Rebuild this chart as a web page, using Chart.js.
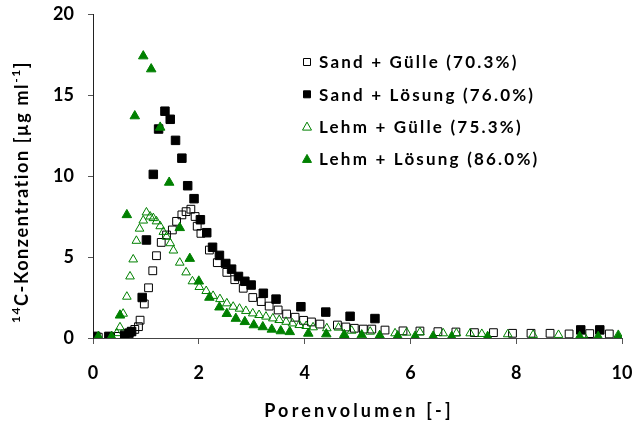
<!DOCTYPE html>
<html>
<head>
<meta charset="utf-8">
<script src="https://cdn.jsdelivr.net/npm/chart.js@4"></script>
<style>
  html, body { margin: 0; padding: 0; background: #fff; }
  #wrap { width: 639px; height: 425px; }
</style>
</head>
<body>
<div id="wrap"><canvas id="chart"></canvas></div>
<script>
const SERIES_NAMES = [
  'Sand + Gülle (70.3%)',
  'Sand + Lösung (76.0%)',
  'Lehm + Gülle (75.3%)',
  'Lehm + Lösung (86.0%)'
];

const X_TITLE = 'Porenvolumen [-]';

// Sand + Gülle (offene Quadrate)
const sandGuelleX = [0.1, 0.32, 0.48, 0.6, 0.72, 0.79, 0.86, 0.89, 0.97, 1.05, 1.13, 1.2, 1.29, 1.39, 1.5, 1.58, 1.68, 1.76, 1.85, 1.93, 1.97, 2.04, 2.2, 2.35, 2.53, 2.68, 2.84, 3.02, 3.18, 3.33, 3.5, 3.66, 3.82, 3.98, 4.13, 4.29, 4.62, 4.78, 4.94, 5.11, 5.27, 5.52, 5.86, 6.18, 6.52, 6.86, 7.21, 7.57, 7.93, 8.28, 8.64, 9.0, 9.39, 9.76];
const sandGuelleY = [0.05, 0.08, 0.1, 0.25, 0.39, 0.53, 0.7, 1.1, 2.1, 3.1, 4.15, 5.08, 5.9, 6.36, 6.67, 7.2, 7.6, 7.8, 7.95, 7.5, 6.9, 6.46, 5.43, 4.65, 4.05, 3.6, 3.07, 2.5, 2.25, 1.97, 1.73, 1.48, 1.28, 1.09, 0.99, 0.86, 0.8, 0.68, 0.6, 0.55, 0.55, 0.49, 0.44, 0.43, 0.39, 0.37, 0.33, 0.33, 0.29, 0.29, 0.29, 0.25, 0.27, 0.25];

// Sand + Lösung (gefüllte Quadrate)
const sandLoesungX = [0.05, 0.3, 0.6, 0.68, 0.73, 0.93, 1.01, 1.14, 1.24, 1.36, 1.46, 1.56, 1.68, 1.79, 1.91, 2.03, 2.15, 2.26, 2.39, 2.51, 2.62, 2.75, 2.87, 2.99, 3.22, 3.46, 3.93, 4.4, 4.86, 5.33, 9.22, 9.58];
const sandLoesungY = [0.1, 0.1, 0.15, 0.3, 0.4, 2.5, 6.05, 10.1, 12.9, 14.0, 13.5, 12.2, 11.1, 9.4, 8.6, 7.3, 6.5, 5.6, 5.1, 4.6, 4.25, 3.8, 3.5, 3.27, 2.76, 2.4, 1.93, 1.6, 1.34, 1.2, 0.5, 0.5];

// Lehm + Gülle (offene Dreiecke)
const lehmGuelleX = [0.1, 0.35, 0.45, 0.51, 0.57, 0.64, 0.7, 0.76, 0.82, 0.88, 0.95, 1.01, 1.08, 1.14, 1.2, 1.27, 1.33, 1.39, 1.46, 1.52, 1.64, 1.76, 1.88, 2.01, 2.14, 2.27, 2.4, 2.53, 2.65, 2.77, 2.89, 3.02, 3.14, 3.27, 3.4, 3.52, 3.65, 3.77, 3.9, 4.03, 4.16, 4.42, 4.64, 4.89, 5.24, 5.71, 5.93, 6.18, 6.62, 6.87, 7.13, 7.35, 7.84, 8.32, 8.8, 9.27, 9.93];
const lehmGuelleY = [0.05, 0.05, 0.3, 0.66, 1.5, 2.55, 3.8, 4.85, 6.0, 6.75, 7.25, 7.75, 7.5, 7.4, 7.2, 6.9, 6.55, 6.25, 5.85, 5.4, 4.65, 4.05, 3.5, 3.15, 2.9, 2.6, 2.4, 2.14, 1.93, 1.81, 1.67, 1.52, 1.42, 1.32, 1.21, 1.11, 1.0, 0.9, 0.8, 0.74, 0.66, 0.6, 0.64, 0.45, 0.39, 0.29, 0.33, 0.35, 0.29, 0.29, 0.29, 0.25, 0.23, 0.19, 0.19, 0.19, 0.19];

// Lehm + Lösung (gefüllte Dreiecke)
const lehmLoesungX = [0.1, 0.35, 0.51, 0.64, 0.79, 0.95, 1.1, 1.27, 1.44, 1.64, 1.83, 2.0, 2.2, 2.39, 2.53, 2.7, 2.87, 3.04, 3.21, 3.38, 3.55, 3.72, 4.07, 4.41, 4.75, 5.08, 5.42, 5.76, 6.09, 6.43, 6.78, 7.46, 9.2, 9.55, 9.93];
const lehmLoesungY = [0.08, 0.08, 1.4, 7.6, 13.7, 17.4, 16.6, 13.0, 9.6, 6.8, 4.9, 3.5, 2.5, 1.9, 1.5, 1.2, 1.0, 0.8, 0.68, 0.53, 0.43, 0.38, 0.28, 0.24, 0.2, 0.18, 0.15, 0.12, 0.1, 0.1, 0.08, 0.08, 0.08, 0.08, 0.08];

const GREEN = '#008000';
const FONT = 'Lato, "Open Sans", sans-serif';

function toPoints(xs, ys) {
  return xs.map((x, i) => ({ x, y: ys[i] }));
}

const datasets = [
  {
    label: SERIES_NAMES[0],
    data: toPoints(sandGuelleX, sandGuelleY),
    pointStyle: 'rect',
    pointRadius: 5.5,
    borderWidth: 1,
    borderColor: '#000',
    backgroundColor: 'rgba(0,0,0,0)',
    order: 3
  },
  {
    label: SERIES_NAMES[1],
    data: toPoints(sandLoesungX, sandLoesungY),
    pointStyle: 'rect',
    pointRadius: 6,
    borderWidth: 1,
    borderColor: '#000',
    backgroundColor: '#000',
    order: 1
  },
  {
    label: SERIES_NAMES[2],
    data: toPoints(lehmGuelleX, lehmGuelleY),
    pointStyle: 'triangle',
    pointRadius: 5,
    borderWidth: 1,
    borderColor: GREEN,
    backgroundColor: 'rgba(0,0,0,0)',
    order: 2
  },
  {
    label: SERIES_NAMES[3],
    data: toPoints(lehmLoesungX, lehmLoesungY),
    pointStyle: 'triangle',
    pointRadius: 5.5,
    borderWidth: 1,
    borderColor: GREEN,
    backgroundColor: GREEN,
    order: 0
  }
];

// legend + axis titles, drawn by hand (letter-spaced like the original)
const decorations = {
  id: 'decorations',
  afterDraw(chart) {
    const ctx = chart.ctx;
    const area = chart.chartArea;
    ctx.save();
    ctx.fillStyle = '#000';
    ctx.textBaseline = 'middle';

    // legend
    ctx.font = 'bold 17px ' + FONT;
    ctx.letterSpacing = '2.2px';
    ctx.textAlign = 'left';
    const legendX = 307;
    const legendY = 62;
    const rowH = 32.3;
    chart.data.datasets.forEach((ds, i) => {
      const y = legendY + i * rowH;
      ctx.save();
      ctx.lineWidth = 1;
      ctx.strokeStyle = ds.borderColor;
      ctx.fillStyle = ds.backgroundColor;
      ctx.beginPath();
      if (ds.pointStyle === 'rect') {
        ctx.rect(legendX - 3.5, y - 3.5, 7, 7);
      } else {
        ctx.moveTo(legendX, y - 4.5);
        ctx.lineTo(legendX + 4.5, y + 3.5);
        ctx.lineTo(legendX - 4.5, y + 3.5);
        ctx.closePath();
      }
      ctx.fill();
      ctx.stroke();
      ctx.restore();
      ctx.fillText(ds.label, legendX + 12, y + 1);
    });

    // x title
    ctx.font = 'bold 18px ' + FONT;
    ctx.letterSpacing = '3.2px';
    ctx.textAlign = 'center';
    ctx.fillText(X_TITLE, (area.left + area.right) / 2 + 1.5, 411);

    // y title with superscripts
    ctx.translate(22, 192);
    ctx.rotate(-Math.PI / 2);
    const parts = [
      { t: '14', sup: true },
      { t: 'C-Konzentration [µg ml', sup: false },
      { t: '-1', sup: true },
      { t: ']', sup: false }
    ];
    ctx.letterSpacing = '1.6px';
    const measure = p => {
      ctx.font = (p.sup ? 'bold 12px ' : 'bold 18px ') + FONT;
      return ctx.measureText(p.t).width;
    };
    const total = parts.reduce((s, p) => s + measure(p), 0);
    let cx = -total / 2;
    ctx.textAlign = 'left';
    parts.forEach(p => {
      const w = measure(p);
      ctx.fillText(p.t, cx, p.sup ? -6 : 0);
      cx += w;
    });
    ctx.restore();
  }
};

new Chart(document.getElementById('chart'), {
  type: 'scatter',
  data: { datasets },
  options: {
    responsive: true,
    maintainAspectRatio: false,
    animation: false,
    events: [],
    layout: { padding: { left: 0, right: 17, top: 14, bottom: 0 } },
    plugins: {
      legend: { display: false },
      tooltip: { enabled: false }
    },
    scales: {
      x: {
        type: 'linear',
        min: 0,
        max: 10,
        afterFit: scale => {
          scale.height = 87;
          scale.paddingLeft = 0;
          scale.paddingRight = 0;
        },
        ticks: {
          stepSize: 2,
          padding: 18,
          color: '#000',
          font: { family: FONT, size: 18, weight: 'bold' }
        },
        grid: {
          drawOnChartArea: false,
          drawTicks: true,
          tickLength: 6,
          color: '#555'
        },
        border: { color: '#444', width: 1 }
      },
      y: {
        type: 'linear',
        min: 0,
        max: 20,
        afterFit: scale => {
          scale.width = 93;
          scale.paddingTop = 0;
          scale.paddingBottom = 0;
        },
        ticks: {
          stepSize: 5,
          padding: 14,
          color: '#000',
          font: { family: FONT, size: 18, weight: 'bold' }
        },
        grid: {
          drawOnChartArea: false,
          drawTicks: true,
          tickLength: 5,
          color: '#555'
        },
        border: { color: '#222', width: 1 }
      }
    }
  },
  plugins: [decorations]
});
</script>
</body>
</html>
